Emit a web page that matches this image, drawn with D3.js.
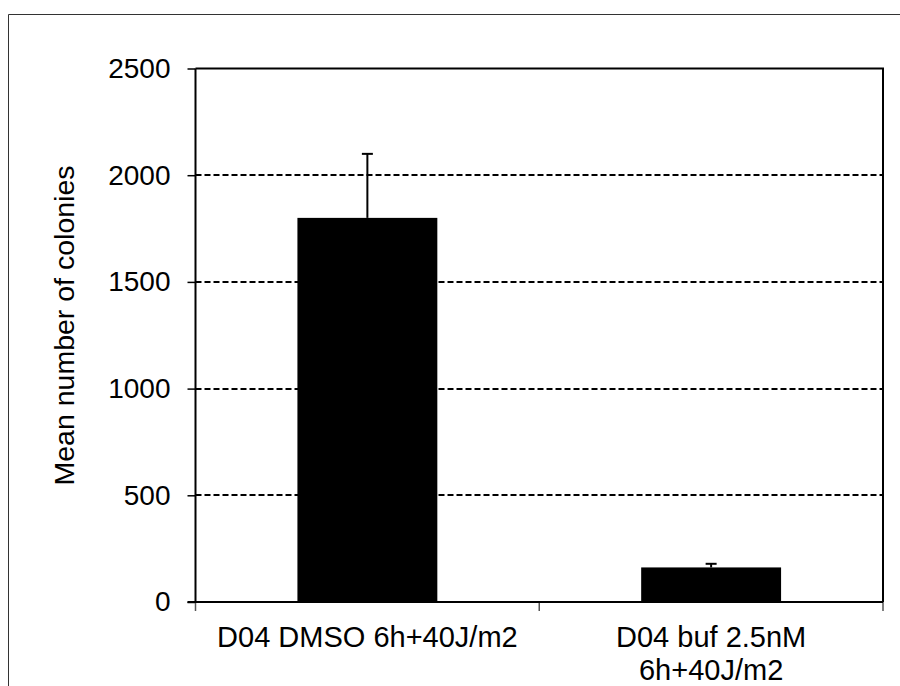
<!DOCTYPE html>
<html>
<head>
<meta charset="utf-8">
<script src="https://cdn.jsdelivr.net/npm/d3@7"></script>
<style>
html,body{margin:0;padding:0;background:#fff;}
svg{display:block;font-family:"Liberation Sans",Arial,sans-serif;}
</style>
</head>
<body>
<svg id="chart" width="900" height="686"></svg>
<script>
const categories = [["D04 DMSO 6h+40J/m2"], ["D04 buf 2.5nM", "6h+40J/m2"]];
const means = [1800, 162];
const errors = [300, 17];
const yTicks = [0, 500, 1000, 1500, 2000, 2500];
const yLabel = "Mean number of colonies";

const svg = d3.select("#chart");
const W = 900, H = 686;
const m = {left: 195.5, right: 883, top: 68.5, bottom: 602};

// outer frame (top and left edges)
svg.append("path").attr("d", `M${W},14.5H8.5V${H}`).attr("fill","none").attr("stroke","#333").attr("stroke-width",1);

const x = d3.scaleBand().domain(d3.range(categories.length)).range([m.left, m.right]).paddingInner(0).paddingOuter(0);
const y = d3.scaleLinear().domain([0, 2500]).range([m.bottom, m.top]);
const barW = x.bandwidth() * 0.407;

// gridlines
svg.append("g").selectAll("line").data(yTicks.filter(d => d > 0 && d < 2500)).join("line")
  .attr("x1", m.left).attr("x2", m.right)
  .attr("y1", d => Math.round(y(d))).attr("y2", d => Math.round(y(d)))
  .attr("stroke", "#000").attr("stroke-width", 2).attr("stroke-dasharray", "6,3");

// plot border top/right
svg.append("path").attr("d", `M${m.left},${y(2500)}H${m.right}V${m.bottom}`).attr("fill","none").attr("stroke","#000").attr("stroke-width",2);

// bars
svg.append("g").selectAll("rect").data(means).join("rect")
  .attr("x", (d,i) => x(i) + (x.bandwidth()-barW)/2)
  .attr("width", barW)
  .attr("y", d => y(d))
  .attr("height", d => y(0) - y(d))
  .attr("fill", "#000");

// error bars
const eg = svg.append("g").attr("stroke","#000").attr("stroke-width",2);
means.forEach((d,i) => {
  const cx = x(i) + x.bandwidth()/2;
  eg.append("line").attr("x1",cx).attr("x2",cx).attr("y1",y(d)).attr("y2",y(d+errors[i]));
  eg.append("line").attr("x1",cx-5.5).attr("x2",cx+5.5).attr("y1",y(d+errors[i])).attr("y2",y(d+errors[i]));
});

// y axis
const yAxis = d3.axisLeft(y).tickValues(yTicks).tickSize(8).tickPadding(17).tickFormat(d3.format("d"));
const yg = svg.append("g").attr("transform", `translate(${m.left},0)`).call(yAxis);
yg.select(".domain").remove();
yg.selectAll(".tick line").attr("stroke","#000").attr("stroke-width",1.5);
yg.selectAll(".tick text").attr("font-size", 28).attr("fill","#000").attr("font-family","Liberation Sans, Arial, sans-serif");
svg.append("line").attr("x1",m.left).attr("x2",m.left).attr("y1",m.top).attr("y2",m.bottom).attr("stroke","#000").attr("stroke-width",2);

// x axis
const xEdges = d3.range(categories.length + 1).map(i => m.left + i * x.bandwidth());
svg.append("g").selectAll("line").data(xEdges).join("line")
  .attr("x1", d => d).attr("x2", d => d).attr("y1", m.bottom).attr("y2", m.bottom + 9)
  .attr("stroke", "#555").attr("stroke-width", 1.5);
svg.append("line").attr("x1",m.left-8).attr("x2",m.right).attr("y1",m.bottom).attr("y2",m.bottom).attr("stroke","#000").attr("stroke-width",2);

const xl = svg.append("g");
categories.forEach((lines, i) => {
  const t = xl.append("text").attr("text-anchor","middle").attr("font-size", 29).attr("fill","#000")
    .attr("x", x(i) + x.bandwidth()/2).attr("y", 647);
  lines.forEach((ln, j) => t.append("tspan").attr("x", x(i) + x.bandwidth()/2).attr("dy", j === 0 ? 0 : 32.5).text(ln));
});

// y label
svg.append("text").attr("transform", `translate(74,${(163+488)/2}) rotate(-90)`)
  .attr("text-anchor","middle").attr("font-size", 28.5).attr("fill","#000").text(yLabel);
</script>
</body>
</html>
